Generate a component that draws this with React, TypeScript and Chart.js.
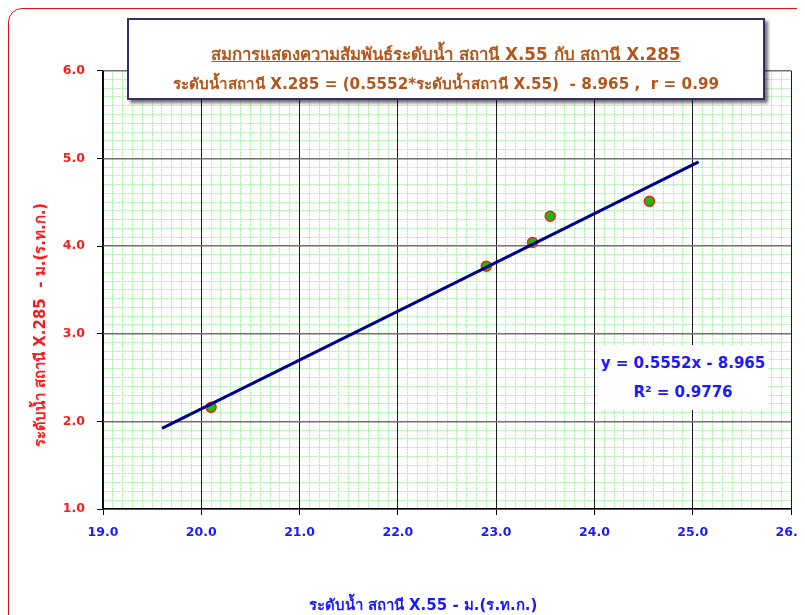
import React, { useEffect, useRef } from "react";
import { Chart, registerables } from "chart.js";

Chart.register(...registerables);

const stationX55 = [20.1, 22.9, 23.37, 23.55, 24.56];
const stationX285 = [2.16, 3.77, 4.04, 4.34, 4.51];
const trendX = [19.6, 25.06];
const trendY = [1.92, 4.96];
const xRange = [19, 26];
const yRange = [1, 6];

const titleLine1 = "สมการแสดงความสัมพันธ์ระดับน้ำ สถานี X.55 กับ สถานี X.285";
const titleLine2 = "ระดับน้ำสถานี X.285 = (0.5552*ระดับน้ำสถานี X.55)  - 8.965 ,  r = 0.99";
const eqLine1 = "y = 0.5552x - 8.965";
const eqLine2 = "R² = 0.9776";
const xTitle = "ระดับน้ำ สถานี X.55 - ม.(ร.ท.ก.)";
const yTitle = "ระดับน้ำ สถานี X.285  - ม.(ร.ท.ก.)";

const FONT = "Tahoma, 'DejaVu Sans', 'Noto Sans', sans-serif";

const isMajor = (v: number) => Math.abs(v - Math.round(v)) < 1e-6;

export default function App() {
  const ref = useRef<HTMLCanvasElement | null>(null);

  useEffect(() => {
    if (!ref.current) return;
    const tickVal = (ctx: any) => (ctx && ctx.tick ? ctx.tick.value : null);
    const minorColor = "#a6eea6";
    const minorGrid = (ctx: any) => {
      const v = tickVal(ctx);
      return v !== null && isMajor(v) ? "rgba(0,0,0,0)" : minorColor;
    };
    const majorTick = (ctx: any) => {
      const v = tickVal(ctx);
      return v !== null && isMajor(v) ? "#000" : "rgba(0,0,0,0)";
    };
    const minorDash = (ctx: any) => (ctx && ctx.tick ? [2, 1] : []);
    const labelCb = (v: any) => (isMajor(Number(v)) ? Number(v).toFixed(1) : "");
    const chart = new Chart(ref.current, {
      type: "scatter",
      data: {
        datasets: [
          {
            type: "line",
            data: trendX.map((x, i) => ({ x, y: trendY[i] })),
            borderColor: "#00008f",
            borderWidth: 3,
            pointRadius: 0,
            showLine: true,
            fill: false,
            xAxisID: "x",
            yAxisID: "y",
          } as any,
          {
            data: stationX55.map((x, i) => ({ x, y: stationX285[i] })),
            backgroundColor: "#10c010",
            borderColor: "#ff1a1a",
            borderWidth: 1.5,
            pointRadius: 5,
            xAxisID: "x",
            yAxisID: "y",
          },
        ],
      },
      options: {
        animation: false,
        responsive: false,
        layout: { padding: { top: 62.7, right: 14, bottom: 66, left: 0 } },
        plugins: { legend: { display: false }, tooltip: { enabled: false }, title: { display: false } },
        scales: {
          x: {
            type: "linear",
            position: "bottom",
            min: xRange[0],
            max: xRange[1],
            afterFit: (s: any) => {
              s.height = 40;
              s.paddingLeft = 0;
              s.paddingRight = 0;
            },
            ticks: {
              stepSize: 0.1,
              autoSkip: false,
              maxRotation: 0,
              padding: 10,
              color: "#1a1aff",
              font: { family: FONT, size: 12.5, weight: "bold" },
              callback: labelCb,
            },
            grid: {
              z: -2,
              color: minorGrid,
              lineWidth: 1,
              tickLength: 6,
              tickColor: majorTick,
            },
            border: {
              display: true,
              color: "#000",
              width: 1.5,
              dash: minorDash,
              z: 1,
            },
          },
          xMajor: {
            type: "linear",
            position: "bottom",
            min: xRange[0],
            max: xRange[1],
            afterFit: (s: any) => {
              s.height = 0;
              s.paddingLeft = 0;
              s.paddingRight = 0;
            },
            ticks: { display: false, stepSize: 1 },
            grid: { z: -1, color: "#1a1a1a", lineWidth: 1, drawTicks: false },
            border: { display: false },
          },
          y: {
            type: "linear",
            position: "left",
            min: yRange[0],
            max: yRange[1],
            afterFit: (s: any) => {
              s.width = 95;
              s.paddingTop = 0;
              s.paddingBottom = 0;
            },
            ticks: {
              stepSize: 0.1,
              autoSkip: false,
              padding: 12,
              color: "#ff1a1a",
              font: { family: FONT, size: 12.5, weight: "bold" },
              callback: labelCb,
            },
            grid: {
              z: -2,
              color: minorGrid,
              lineWidth: 1,
              tickLength: 6,
              tickColor: majorTick,
            },
            border: {
              display: true,
              color: "#000",
              width: 1.5,
              dash: minorDash,
              z: 1,
            },
          },
          yMajor: {
            type: "linear",
            position: "left",
            min: yRange[0],
            max: yRange[1],
            afterFit: (s: any) => {
              s.width = 0;
              s.paddingTop = 0;
              s.paddingBottom = 0;
            },
            ticks: { display: false, stepSize: 1 },
            grid: { z: -1, color: "#707070", lineWidth: 1.5, drawTicks: false },
            border: { display: false },
          },
        },
      } as any,
    });
    return () => chart.destroy();
  }, []);

  return (
    <div style={{ position: "relative", width: 797, height: 607, overflow: "hidden", fontFamily: FONT }}>
      <canvas ref={ref} width={797} height={607} style={{ position: "absolute", left: 0, top: 0 }} />
      <div
        style={{
          position: "absolute",
          left: 0,
          top: 0,
          width: 840,
          height: 660,
          border: "1.5px solid #e01010",
          borderRadius: 14,
          pointerEvents: "none",
        }}
      />
      <div
        style={{
          position: "absolute",
          left: 119,
          top: 10,
          width: 634,
          height: 78,
          background: "#fff",
          border: "2px solid #3a2c6c",
          boxShadow: "3px 3px 3px rgba(0,0,0,0.55)",
          color: "#b4561c",
          fontWeight: "bold",
          textAlign: "center",
        }}
      >
        <div
          style={{
            position: "absolute",
            left: 0,
            right: 0,
            top: 21,
            fontSize: 16.8,
            textDecoration: "underline",
            textDecorationThickness: 1,
          }}
        >
          {titleLine1}
        </div>
        <div style={{ position: "absolute", left: 0, right: 0, top: 52, fontSize: 15.2, whiteSpace: "pre" }}>
          {titleLine2}
        </div>
      </div>
      <div
        style={{
          position: "absolute",
          left: 590,
          top: 337,
          width: 170,
          height: 65,
          background: "#fff",
          color: "#1a1aff",
          fontWeight: "bold",
          fontSize: 15,
          textAlign: "center",
          lineHeight: "29px",
          paddingTop: 4,
          boxSizing: "border-box",
        }}
      >
        <div>{eqLine1}</div>
        <div>{eqLine2}</div>
      </div>
      <div
        style={{
          position: "absolute",
          left: 415 - 200,
          width: 400,
          top: 587,
          textAlign: "center",
          color: "#1a1aff",
          fontWeight: "bold",
          fontSize: 15,
          lineHeight: "20px",
        }}
      >
        {xTitle}
      </div>
      <div
        style={{
          position: "absolute",
          left: 32 - 200,
          top: 317 - 10,
          width: 400,
          height: 20,
          lineHeight: "20px",
          textAlign: "center",
          color: "#ff1a1a",
          fontWeight: "bold",
          fontSize: 15,
          transform: "rotate(-90deg)",
          whiteSpace: "pre",
        }}
      >
        {yTitle}
      </div>
    </div>
  );
}
